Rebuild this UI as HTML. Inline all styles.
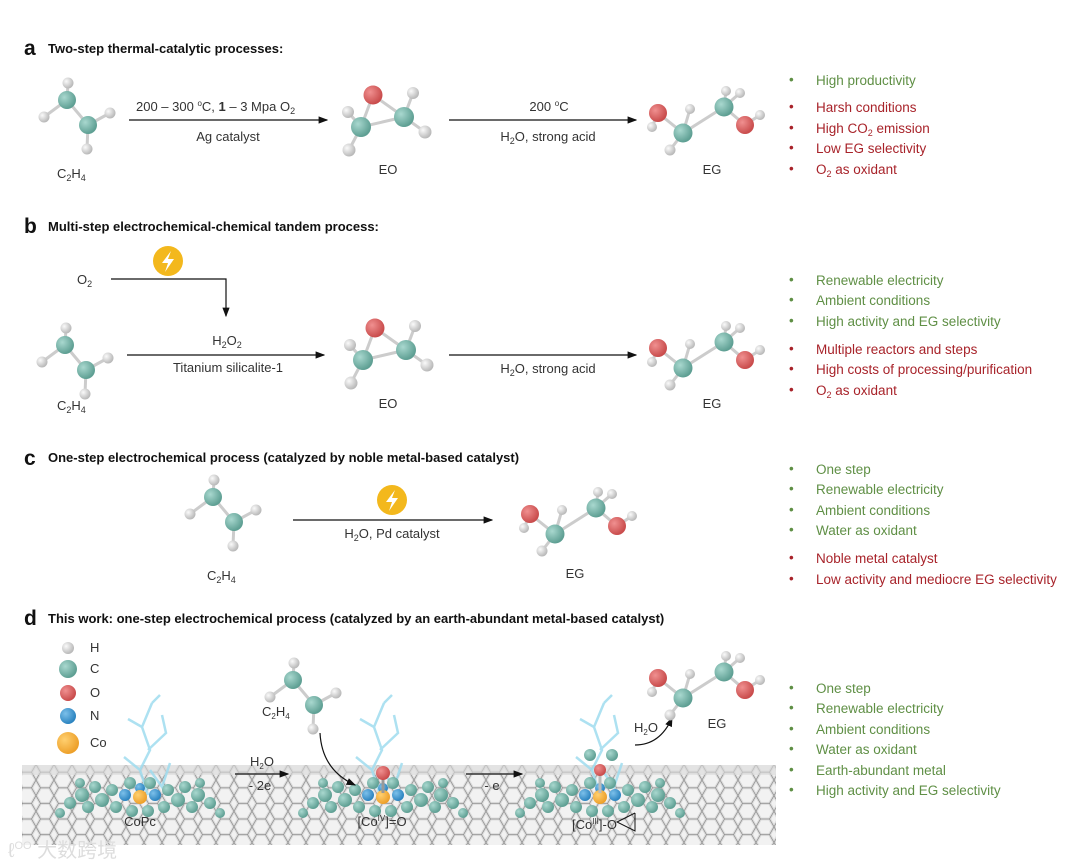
<!DOCTYPE html>
<html><head><meta charset="utf-8"><style>
html,body{margin:0;padding:0;background:#fff}
svg{display:block}
text{font-family:"Liberation Sans",Arial,sans-serif}
.h{font-weight:bold;font-size:13px;fill:#111}
.L{font-weight:bold;font-size:21px;fill:#111}
.t{font-size:13px;fill:#333}
.g{font-size:13.5px;fill:#5f8f45}
.r{font-size:13.5px;fill:#a8232a}
</style></head><body>
<svg width="1080" height="867" viewBox="0 0 1080 867" xmlns="http://www.w3.org/2000/svg">
<defs>
<radialGradient id="gc" cx="35%" cy="35%" r="65%"><stop offset="0" stop-color="#a9d8cf"/><stop offset="1" stop-color="#5e9f93"/></radialGradient>
<radialGradient id="gh" cx="35%" cy="35%" r="65%"><stop offset="0" stop-color="#fafafa"/><stop offset="1" stop-color="#b9b9b9"/></radialGradient>
<radialGradient id="go" cx="35%" cy="35%" r="65%"><stop offset="0" stop-color="#f09090"/><stop offset="1" stop-color="#c94c4c"/></radialGradient>
<radialGradient id="gn" cx="35%" cy="35%" r="65%"><stop offset="0" stop-color="#7cc0ea"/><stop offset="1" stop-color="#2c84c0"/></radialGradient>
<radialGradient id="gco" cx="35%" cy="35%" r="65%"><stop offset="0" stop-color="#ffd070"/><stop offset="1" stop-color="#eda02a"/></radialGradient>
<marker id="ar" markerWidth="8" markerHeight="8" refX="7" refY="4" orient="auto"><path d="M0,1 L8,4 L0,7 z" fill="#111"/></marker>
<g id="eth">
<g stroke="#ccc" stroke-width="3"><line x1="0" y1="0" x2="1" y2="-17"/><line x1="0" y1="0" x2="-23" y2="17"/><line x1="0" y1="0" x2="21" y2="25"/><line x1="21" y1="25" x2="43" y2="13"/><line x1="21" y1="25" x2="20" y2="49"/></g>
<circle cx="1" cy="-17" r="5.5" fill="url(#gh)"/><circle cx="-23" cy="17" r="5.5" fill="url(#gh)"/><circle cx="43" cy="13" r="5.5" fill="url(#gh)"/><circle cx="20" cy="49" r="5.5" fill="url(#gh)"/>
<circle cx="0" cy="0" r="9" fill="url(#gc)"/><circle cx="21" cy="25" r="9" fill="url(#gc)"/>
</g>
<g id="eo">
<g stroke="#ccc" stroke-width="3"><line x1="0" y1="0" x2="-12" y2="32"/><line x1="0" y1="0" x2="31" y2="22"/><line x1="-12" y1="32" x2="31" y2="22"/><line x1="-12" y1="32" x2="-25" y2="17"/><line x1="-12" y1="32" x2="-24" y2="55"/><line x1="31" y1="22" x2="40" y2="-2"/><line x1="31" y1="22" x2="52" y2="37"/></g>
<circle cx="-25" cy="17" r="6" fill="url(#gh)"/><circle cx="-24" cy="55" r="6.5" fill="url(#gh)"/><circle cx="40" cy="-2" r="6" fill="url(#gh)"/><circle cx="52" cy="37" r="6.5" fill="url(#gh)"/>
<circle cx="0" cy="0" r="9.5" fill="url(#go)"/><circle cx="-12" cy="32" r="10" fill="url(#gc)"/><circle cx="31" cy="22" r="10" fill="url(#gc)"/>
</g>
<g id="eg">
<g stroke="#ccc" stroke-width="3"><line x1="-42" y1="-2" x2="-17" y2="18"/><line x1="-17" y1="18" x2="24" y2="-8"/><line x1="24" y1="-8" x2="45" y2="10"/><line x1="-42" y1="-2" x2="-48" y2="12"/><line x1="-17" y1="18" x2="-30" y2="35"/><line x1="-17" y1="18" x2="-10" y2="-6"/><line x1="24" y1="-8" x2="26" y2="-24"/><line x1="24" y1="-8" x2="40" y2="-22"/><line x1="45" y1="10" x2="60" y2="0"/></g>
<circle cx="-48" cy="12" r="5" fill="url(#gh)"/><circle cx="-30" cy="35" r="5.5" fill="url(#gh)"/><circle cx="-10" cy="-6" r="5" fill="url(#gh)"/><circle cx="26" cy="-24" r="5" fill="url(#gh)"/><circle cx="40" cy="-22" r="5" fill="url(#gh)"/><circle cx="60" cy="0" r="5" fill="url(#gh)"/>
<circle cx="-42" cy="-2" r="9" fill="url(#go)"/><circle cx="-17" cy="18" r="9.5" fill="url(#gc)"/><circle cx="24" cy="-8" r="9.5" fill="url(#gc)"/><circle cx="45" cy="10" r="9" fill="url(#go)"/>
</g>
<g id="bolt"><circle cx="0" cy="0" r="15" fill="#f3b81d"/><path d="M3,-10 L-6,2 L0,2 L-3,11 L6,-2 L0,-2 z" fill="#fff"/></g>
<pattern id="hex" width="18" height="15.6" patternUnits="userSpaceOnUse"><path d="M0,0 l4.5,7.8 h9 l4.5,-7.8 M4.5,7.8 l-4.5,7.8 M13.5,7.8 l4.5,7.8" fill="none" stroke="#dcdcdc" stroke-width="3"/><path d="M0,0 l4.5,7.8 h9 l4.5,-7.8 M4.5,7.8 l-4.5,7.8 M13.5,7.8 l4.5,7.8" fill="none" stroke="#8a8a8a" stroke-width="0.7"/></pattern>
<g id="pc">
<g fill="url(#gc)">
<circle cx="-70" cy="8" r="6"/><circle cx="-58" cy="0" r="7"/><circle cx="-45" cy="-8" r="6"/><circle cx="-52" cy="12" r="6"/><circle cx="-38" cy="5" r="7"/><circle cx="-28" cy="-5" r="6"/><circle cx="-24" cy="12" r="6"/><circle cx="-60" cy="-12" r="5"/>
<circle cx="70" cy="8" r="6"/><circle cx="58" cy="0" r="7"/><circle cx="45" cy="-8" r="6"/><circle cx="52" cy="12" r="6"/><circle cx="38" cy="5" r="7"/><circle cx="28" cy="-5" r="6"/><circle cx="24" cy="12" r="6"/><circle cx="60" cy="-12" r="5"/>
<circle cx="-10" cy="-12" r="6"/><circle cx="10" cy="-12" r="6"/><circle cx="-8" cy="16" r="6"/><circle cx="8" cy="16" r="6"/><circle cx="-80" cy="18" r="5"/><circle cx="80" cy="18" r="5"/>
</g>
<circle cx="-15" cy="0" r="6" fill="url(#gn)"/><circle cx="15" cy="0" r="6" fill="url(#gn)"/><circle cx="0" cy="-7" r="5" fill="url(#gn)"/>
<circle cx="0" cy="2" r="7" fill="url(#gco)"/>
</g>
<g id="light" fill="none" stroke="#9fdcef" stroke-width="2.5" opacity="0.85"><path d="M0,0 L-8,-25 L2,-45 L-6,-68 L4,-92 M0,-45 L18,-62 L14,-80 M-6,-68 L-20,-76 M2,-25 L14,-8 L22,-32 M-8,-25 L-24,-38 M4,-92 L12,-100"/></g>
</defs>

<!-- a -->
<text x="24" y="55" class="L">a</text>
<text x="48" y="53" class="h">Two-step thermal-catalytic processes:</text>
<use href="#eth" x="67" y="100"/>
<text x="57" y="178" class="t">C<tspan font-size="9" dy="3">2</tspan><tspan dy="-3">H</tspan><tspan font-size="9" dy="3">4</tspan></text>
<line x1="129" y1="120" x2="327" y2="120" stroke="#111" stroke-width="1.2" marker-end="url(#ar)"/>
<text x="136" y="111" class="t">200 – 300 <tspan font-size="8" dy="-5">o</tspan><tspan dy="5">C, </tspan><tspan font-weight="bold">1</tspan> – 3 Mpa O<tspan font-size="9" dy="3">2</tspan></text>
<text x="228" y="141" class="t" text-anchor="middle">Ag catalyst</text>
<use href="#eo" x="373" y="95"/>
<text x="388" y="174" class="t" text-anchor="middle">EO</text>
<line x1="449" y1="120" x2="636" y2="120" stroke="#111" stroke-width="1.2" marker-end="url(#ar)"/>
<text x="549" y="111" class="t" text-anchor="middle">200 <tspan font-size="8" dy="-5">o</tspan><tspan dy="5">C</tspan></text>
<text x="548" y="141" class="t" text-anchor="middle">H<tspan font-size="9" dy="3">2</tspan><tspan dy="-3">O, strong acid</tspan></text>
<use href="#eg" x="700" y="115"/>
<text x="712" y="174" class="t" text-anchor="middle">EG</text>
<g><text x="789" y="84" class="g">•</text><text x="816" y="85" class="g">High productivity</text>
<text x="789" y="111" class="r">•</text><text x="816" y="112" class="r">Harsh conditions</text>
<text x="789" y="132" class="r">•</text><text x="816" y="133" class="r">High CO<tspan font-size="9" dy="3">2</tspan><tspan dy="-3"> emission</tspan></text>
<text x="789" y="152" class="r">•</text><text x="816" y="153" class="r">Low EG selectivity</text>
<text x="789" y="173" class="r">•</text><text x="816" y="174" class="r">O<tspan font-size="9" dy="3">2</tspan><tspan dy="-3"> as oxidant</tspan></text></g>

<!-- b -->
<text x="24" y="233" class="L">b</text>
<text x="48" y="231" class="h">Multi-step electrochemical-chemical tandem process:</text>
<use href="#bolt" x="168" y="261"/>
<text x="77" y="284" class="t">O<tspan font-size="9" dy="3">2</tspan></text>
<polyline points="111,279 226,279 226,316" fill="none" stroke="#111" stroke-width="1.2" marker-end="url(#ar)"/>
<use href="#eth" x="65" y="345"/>
<text x="57" y="410" class="t">C<tspan font-size="9" dy="3">2</tspan><tspan dy="-3">H</tspan><tspan font-size="9" dy="3">4</tspan></text>
<text x="227" y="345" class="t" text-anchor="middle">H<tspan font-size="9" dy="3">2</tspan><tspan dy="-3">O</tspan><tspan font-size="9" dy="3">2</tspan></text>
<line x1="127" y1="355" x2="324" y2="355" stroke="#111" stroke-width="1.2" marker-end="url(#ar)"/>
<text x="228" y="372" class="t" text-anchor="middle">Titanium silicalite-1</text>
<use href="#eo" x="375" y="328"/>
<text x="388" y="408" class="t" text-anchor="middle">EO</text>
<line x1="449" y1="355" x2="636" y2="355" stroke="#111" stroke-width="1.2" marker-end="url(#ar)"/>
<text x="548" y="373" class="t" text-anchor="middle">H<tspan font-size="9" dy="3">2</tspan><tspan dy="-3">O, strong acid</tspan></text>
<use href="#eg" x="700" y="350"/>
<text x="712" y="408" class="t" text-anchor="middle">EG</text>
<g><text x="789" y="284" class="g">•</text><text x="816" y="285" class="g">Renewable electricity</text>
<text x="789" y="304" class="g">•</text><text x="816" y="305" class="g">Ambient conditions</text>
<text x="789" y="325" class="g">•</text><text x="816" y="326" class="g">High activity and EG selectivity</text>
<text x="789" y="353" class="r">•</text><text x="816" y="354" class="r">Multiple reactors and steps</text>
<text x="789" y="373" class="r">•</text><text x="816" y="374" class="r">High costs of processing/purification</text>
<text x="789" y="394" class="r">•</text><text x="816" y="395" class="r">O<tspan font-size="9" dy="3">2</tspan><tspan dy="-3"> as oxidant</tspan></text></g>

<!-- c -->
<text x="24" y="465" class="L">c</text>
<text x="48" y="462" class="h">One-step electrochemical process (catalyzed by noble metal-based catalyst)</text>
<use href="#eth" x="213" y="497"/>
<text x="207" y="580" class="t">C<tspan font-size="9" dy="3">2</tspan><tspan dy="-3">H</tspan><tspan font-size="9" dy="3">4</tspan></text>
<use href="#bolt" x="392" y="500"/>
<line x1="293" y1="520" x2="492" y2="520" stroke="#111" stroke-width="1.2" marker-end="url(#ar)"/>
<text x="392" y="538" class="t" text-anchor="middle">H<tspan font-size="9" dy="3">2</tspan><tspan dy="-3">O, Pd catalyst</tspan></text>
<use href="#eg" x="572" y="516"/>
<text x="575" y="578" class="t" text-anchor="middle">EG</text>
<g><text x="789" y="473" class="g">•</text><text x="816" y="474" class="g">One step</text>
<text x="789" y="493" class="g">•</text><text x="816" y="494" class="g">Renewable electricity</text>
<text x="789" y="514" class="g">•</text><text x="816" y="515" class="g">Ambient conditions</text>
<text x="789" y="534" class="g">•</text><text x="816" y="535" class="g">Water as oxidant</text>
<text x="789" y="562" class="r">•</text><text x="816" y="563" class="r">Noble metal catalyst</text>
<text x="789" y="583" class="r">•</text><text x="816" y="584" class="r">Low activity and mediocre EG selectivity</text></g>

<!-- d -->
<text x="24" y="625" class="L">d</text>
<text x="48" y="623" class="h">This work: one-step electrochemical process (catalyzed by an earth-abundant metal-based catalyst)</text>
<circle cx="68" cy="648" r="6" fill="url(#gh)"/><text x="90" y="652" class="t" font-size="11">H</text>
<circle cx="68" cy="669" r="9" fill="url(#gc)"/><text x="90" y="673" class="t" font-size="11">C</text>
<circle cx="68" cy="693" r="8" fill="url(#go)"/><text x="90" y="697" class="t" font-size="11">O</text>
<circle cx="68" cy="716" r="8" fill="url(#gn)"/><text x="90" y="720" class="t" font-size="11">N</text>
<circle cx="68" cy="743" r="11" fill="url(#gco)"/><text x="90" y="747" class="t" font-size="11">Co</text>
<rect x="22" y="765" width="754" height="80" fill="#f2f2f2"/>
<rect x="22" y="765" width="754" height="80" fill="url(#hex)"/>
<rect x="22" y="765" width="754" height="10" fill="#d8d8d8" opacity="0.6"/>
<use href="#light" x="148" y="795"/>
<use href="#light" x="380" y="795"/>
<use href="#light" x="600" y="795"/>
<use href="#pc" x="140" y="795"/>
<use href="#pc" x="383" y="795"/>
<use href="#pc" x="600" y="795"/>
<line x1="383" y1="793" x2="383" y2="778" stroke="#999" stroke-width="3"/><circle cx="383" cy="773" r="7" fill="url(#go)"/>
<line x1="600" y1="793" x2="600" y2="770" stroke="#bbb" stroke-width="3"/><circle cx="600" cy="770" r="6" fill="url(#go)"/><circle cx="590" cy="755" r="6" fill="url(#gc)"/><circle cx="612" cy="755" r="6" fill="url(#gc)"/>
<use href="#eth" x="293" y="680"/>
<text x="262" y="716" class="t" font-size="12">C<tspan font-size="8" dy="3">2</tspan><tspan dy="-3">H</tspan><tspan font-size="8" dy="3">4</tspan></text>
<path d="M320,733 Q322,770 355,785" fill="none" stroke="#111" stroke-width="1.2" marker-end="url(#ar)"/>
<line x1="235" y1="774" x2="288" y2="774" stroke="#111" stroke-width="1.2" marker-end="url(#ar)"/>
<text x="262" y="766" class="t" font-size="12" text-anchor="middle">H<tspan font-size="8" dy="3">2</tspan><tspan dy="-3">O</tspan></text>
<text x="260" y="790" class="t" font-size="12" text-anchor="middle">- 2e</text>
<line x1="466" y1="774" x2="522" y2="774" stroke="#111" stroke-width="1.2" marker-end="url(#ar)"/>
<text x="492" y="790" class="t" font-size="12" text-anchor="middle">- e</text>
<text x="140" y="826" class="t" font-size="12" text-anchor="middle">CoPc</text>
<text x="382" y="826" class="t" font-size="12" text-anchor="middle">[Co<tspan font-size="8" dy="-5">IV</tspan><tspan dy="5">]=O</tspan></text>
<text x="572" y="829" class="t" font-size="12">[Co<tspan font-size="8" dy="-5">III</tspan><tspan dy="5">]-O</tspan></text>
<polyline points="635,813 617,822 635,831 635,813" fill="none" stroke="#111" stroke-width="1"/>
<path d="M635,745 Q660,745 672,718" fill="none" stroke="#111" stroke-width="1.2" marker-end="url(#ar)"/>
<text x="634" y="732" class="t" font-size="12">H<tspan font-size="8" dy="3">2</tspan><tspan dy="-3">O</tspan></text>
<use href="#eg" x="700" y="680"/>
<text x="717" y="728" class="t" font-size="12" text-anchor="middle">EG</text>
<text x="8" y="857" font-size="20" fill="#ddd" font-family="'Liberation Sans','Noto Sans CJK SC',sans-serif">ℓ<tspan font-size="11" dy="-8">OO</tspan><tspan dy="8"> 大数跨境</tspan></text>
<g><text x="789" y="692" class="g">•</text><text x="816" y="693" class="g">One step</text>
<text x="789" y="712" class="g">•</text><text x="816" y="713" class="g">Renewable electricity</text>
<text x="789" y="733" class="g">•</text><text x="816" y="734" class="g">Ambient conditions</text>
<text x="789" y="753" class="g">•</text><text x="816" y="754" class="g">Water as oxidant</text>
<text x="789" y="774" class="g">•</text><text x="816" y="775" class="g">Earth-abundant metal</text>
<text x="789" y="794" class="g">•</text><text x="816" y="795" class="g">High activity and EG selectivity</text></g>
</svg>
</body></html>
